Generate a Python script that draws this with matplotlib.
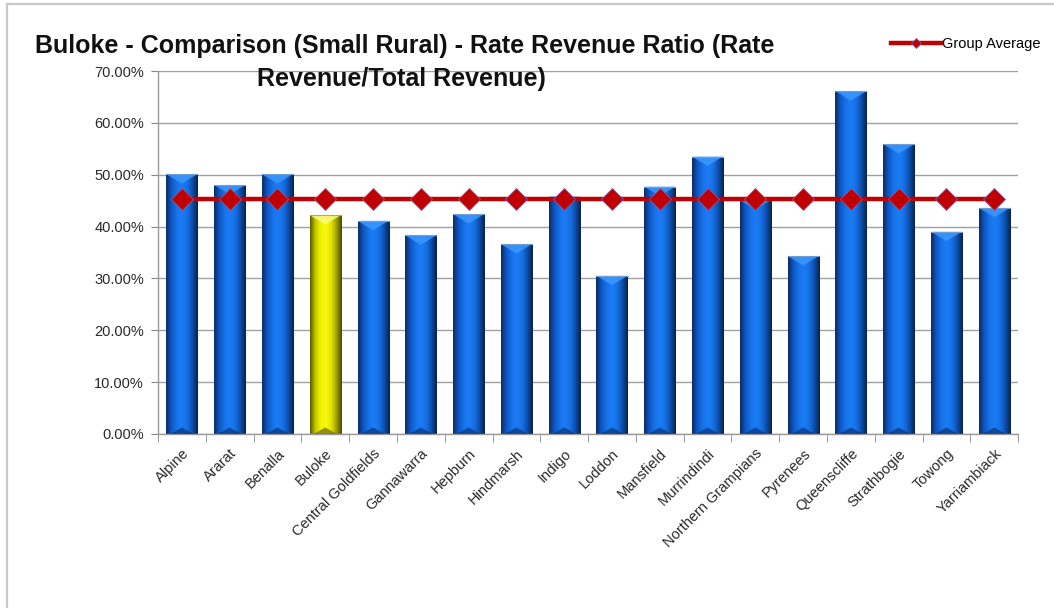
import numpy as np
import matplotlib.pyplot as plt
from matplotlib.colors import LinearSegmentedColormap
from matplotlib.lines import Line2D
from matplotlib.patches import Polygon
from matplotlib.ticker import FuncFormatter, MultipleLocator

plt.rcParams["font.family"] = ["Liberation Sans", "DejaVu Sans"]

councils = [
    "Alpine", "Ararat", "Benalla", "Buloke", "Central Goldfields", "Gannawarra",
    "Hepburn", "Hindmarsh", "Indigo", "Loddon", "Mansfield", "Murrindindi",
    "Northern Grampians", "Pyrenees", "Queenscliffe", "Strathbogie", "Towong",
    "Yarriambiack",
]
rate_ratio = [
    0.501, 0.480, 0.501, 0.422, 0.411, 0.383, 0.424, 0.366, 0.458, 0.305,
    0.477, 0.535, 0.451, 0.343, 0.661, 0.559, 0.390, 0.436,
]
group_average = [0.4525] * len(councils)
highlight = "Buloke"

blue_cmap = LinearSegmentedColormap.from_list(
    "bevel_blue", ["#0a2c66", "#1058c4", "#1672ea", "#1c7cf4", "#1670e6", "#0e4eaa", "#082250"])
yellow_cmap = LinearSegmentedColormap.from_list(
    "bevel_yellow", ["#5c5c00", "#c8c800", "#f2f200", "#f8f810", "#e4e400", "#a0a000", "#4a4a00"])

fig = plt.figure(figsize=(10.54, 6.08), dpi=100)
ax = fig.add_axes([0.1499, 0.2862, 0.8161, 0.5970])

x = np.arange(len(councils))
bars = ax.bar(x, rate_ratio, width=0.65, color="none", edgecolor="none", zorder=2)

# shaded, bevelled bars
grad = np.linspace(0, 1, 64).reshape(1, -1)
bevel = 0.018
for name, bar in zip(councils, bars):
    x0, w, h = bar.get_x(), bar.get_width(), bar.get_height()
    cmap = yellow_cmap if name == highlight else blue_cmap
    img = ax.imshow(grad, cmap=cmap, aspect="auto", extent=(x0, x0 + w, 0, h),
                    zorder=2, interpolation="bicubic")
    img.set_clip_path(bar)
    light = "#fafa80" if name == highlight else "#3c98fa"
    dark = "#6a6a00" if name == highlight else "#0a3578"
    ax.add_patch(Polygon([(x0, h), (x0 + w, h), (x0 + w / 2, h - bevel)],
                         closed=True, facecolor=light, edgecolor="none", zorder=3, alpha=0.85))
    ax.add_patch(Polygon([(x0 + 0.08, 0), (x0 + w - 0.08, 0), (x0 + w / 2, bevel * 0.7)],
                         closed=True, facecolor=dark, edgecolor="none", zorder=3, alpha=0.7))
    ax.plot([x0, x0 + w], [h, h], color="#6f9fd8" if name != highlight else "#b0b050",
            lw=0.8, zorder=3)

ax.plot(x, group_average, color="#c00000", lw=3.2, marker="D", markersize=11,
        markerfacecolor="#c00000", markeredgecolor="#8a5a9a", markeredgewidth=0.6, zorder=4)

ax.set_xlim(-0.5, len(councils) - 0.5)
ax.set_ylim(0, 0.70)
ax.yaxis.set_major_locator(MultipleLocator(0.10))
ax.yaxis.set_major_formatter(FuncFormatter(lambda v, _: f"{v * 100:.2f}%"))
ax.grid(axis="y", color="#a0a0a0", lw=1.0, zorder=0)
ax.set_axisbelow(True)
ax.get_ygridlines()[-1].set_color("#cfcfcf")
ax.get_ygridlines()[-1].set_linewidth(1.6)

ax.set_xticks(x)
ax.set_xticklabels(councils, rotation=45, ha="right", rotation_mode="anchor", fontsize=10.5,
                   color="#2a2a2a")
ax.set_xticks(np.arange(-0.5, len(councils)), minor=True)
ax.tick_params(axis="x", which="major", length=0, pad=9)
ax.tick_params(axis="x", which="minor", length=6, color="#888888", direction="out")
ax.tick_params(axis="y", length=5, color="#888888", labelsize=10.5, labelcolor="#2a2a2a", pad=5)

for side in ("top", "right"):
    ax.spines[side].set_visible(False)
for side in ("left", "bottom"):
    ax.spines[side].set_color("#999999")
    ax.spines[side].set_linewidth(1.0)

fig.text(0.033, 0.924, "Buloke - Comparison (Small Rural) - Rate Revenue Ratio (Rate",
         fontsize=18, fontweight="bold", color="#111111", ha="left", va="center")
fig.text(0.381, 0.870, "Revenue/Total Revenue)", fontsize=18, fontweight="bold",
         color="#111111", ha="center", va="center")

handle = Line2D([], [], color="#c00000", lw=3.2, marker="D", markersize=5,
                markerfacecolor="#c00000", markeredgecolor="#8a5a9a", markeredgewidth=0.6)
fig.legend([handle], ["Group Average"], loc="center right", bbox_to_anchor=(0.993, 0.928),
           frameon=False, fontsize=10.5, handlelength=3.4, handletextpad=0.1,
           borderaxespad=0)

# chart area frame
fig.add_artist(Line2D([0.0062, 0.0062], [0.0, 0.993], color="#c8c8c8", lw=1.6,
                      transform=fig.transFigure))
fig.add_artist(Line2D([0.0062, 1.0], [0.993, 0.993], color="#c8c8c8", lw=1.6,
                      transform=fig.transFigure))

fig.savefig("out.png", dpi=100)
